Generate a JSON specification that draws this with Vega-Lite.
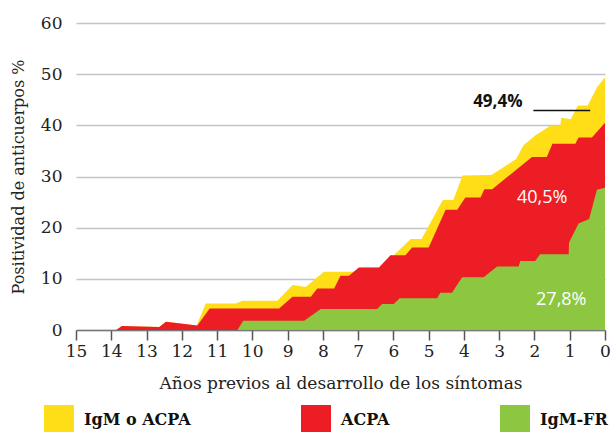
{
  "$schema": "https://vega.github.io/schema/vega-lite/v6.json",
  "width": 529,
  "height": 307,
  "autosize": "none",
  "padding": {"left": 76, "top": 23, "right": 6, "bottom": 102},
  "background": "white",
  "config": {"view": {"stroke": null}, "font": "DejaVu Serif"},
  "datasets": {
    "series": [
      {"s": "IgM o ACPA", "yr": 13.86, "v": 0}, {"s": "IgM o ACPA", "yr": 13.7, "v": 0.8}, {"s": "IgM o ACPA", "yr": 12.64, "v": 0.6}, {"s": "IgM o ACPA", "yr": 12.45, "v": 1.6}, {"s": "IgM o ACPA", "yr": 11.58, "v": 0.9}, {"s": "IgM o ACPA", "yr": 11.32, "v": 5.2}, {"s": "IgM o ACPA", "yr": 10.47, "v": 5.2}, {"s": "IgM o ACPA", "yr": 10.28, "v": 5.7}, {"s": "IgM o ACPA", "yr": 9.29, "v": 5.7}, {"s": "IgM o ACPA", "yr": 8.86, "v": 8.8}, {"s": "IgM o ACPA", "yr": 8.49, "v": 8.4}, {"s": "IgM o ACPA", "yr": 7.97, "v": 11.4}, {"s": "IgM o ACPA", "yr": 7.07, "v": 11.4}, {"s": "IgM o ACPA", "yr": 6.98, "v": 12.2}, {"s": "IgM o ACPA", "yr": 6.41, "v": 12.2}, {"s": "IgM o ACPA", "yr": 6.08, "v": 14.6}, {"s": "IgM o ACPA", "yr": 5.99, "v": 14.6}, {"s": "IgM o ACPA", "yr": 5.51, "v": 17.8}, {"s": "IgM o ACPA", "yr": 5.2, "v": 17.8}, {"s": "IgM o ACPA", "yr": 4.6, "v": 25.4}, {"s": "IgM o ACPA", "yr": 4.3, "v": 25.4}, {"s": "IgM o ACPA", "yr": 4.04, "v": 30.2}, {"s": "IgM o ACPA", "yr": 3.22, "v": 30.3}, {"s": "IgM o ACPA", "yr": 2.52, "v": 33.4}, {"s": "IgM o ACPA", "yr": 2.31, "v": 36.1}, {"s": "IgM o ACPA", "yr": 1.98, "v": 38.0}, {"s": "IgM o ACPA", "yr": 1.55, "v": 39.9}, {"s": "IgM o ACPA", "yr": 1.27, "v": 39.9}, {"s": "IgM o ACPA", "yr": 1.24, "v": 41.5}, {"s": "IgM o ACPA", "yr": 0.97, "v": 41.2}, {"s": "IgM o ACPA", "yr": 0.77, "v": 43.9}, {"s": "IgM o ACPA", "yr": 0.49, "v": 43.9}, {"s": "IgM o ACPA", "yr": 0.23, "v": 47.4}, {"s": "IgM o ACPA", "yr": 0, "v": 49.4},
      {"s": "ACPA", "yr": 13.86, "v": 0}, {"s": "ACPA", "yr": 13.7, "v": 0.8}, {"s": "ACPA", "yr": 12.64, "v": 0.6}, {"s": "ACPA", "yr": 12.45, "v": 1.6}, {"s": "ACPA", "yr": 11.56, "v": 0.9}, {"s": "ACPA", "yr": 11.21, "v": 4.2}, {"s": "ACPA", "yr": 9.24, "v": 4.2}, {"s": "ACPA", "yr": 8.86, "v": 6.5}, {"s": "ACPA", "yr": 8.34, "v": 6.5}, {"s": "ACPA", "yr": 8.16, "v": 8.1}, {"s": "ACPA", "yr": 7.68, "v": 8.1}, {"s": "ACPA", "yr": 7.5, "v": 10.6}, {"s": "ACPA", "yr": 7.26, "v": 10.6}, {"s": "ACPA", "yr": 6.98, "v": 12.2}, {"s": "ACPA", "yr": 6.41, "v": 12.2}, {"s": "ACPA", "yr": 6.08, "v": 14.6}, {"s": "ACPA", "yr": 5.66, "v": 14.6}, {"s": "ACPA", "yr": 5.47, "v": 16.1}, {"s": "ACPA", "yr": 5.0, "v": 16.1}, {"s": "ACPA", "yr": 4.52, "v": 23.5}, {"s": "ACPA", "yr": 4.19, "v": 23.5}, {"s": "ACPA", "yr": 3.96, "v": 25.9}, {"s": "ACPA", "yr": 3.53, "v": 25.9}, {"s": "ACPA", "yr": 3.42, "v": 27.5}, {"s": "ACPA", "yr": 3.2, "v": 27.5}, {"s": "ACPA", "yr": 2.07, "v": 33.8}, {"s": "ACPA", "yr": 1.65, "v": 33.8}, {"s": "ACPA", "yr": 1.49, "v": 36.4}, {"s": "ACPA", "yr": 0.84, "v": 36.4}, {"s": "ACPA", "yr": 0.75, "v": 37.6}, {"s": "ACPA", "yr": 0.37, "v": 37.6}, {"s": "ACPA", "yr": 0, "v": 40.5},
      {"s": "IgM-FR", "yr": 10.42, "v": 0}, {"s": "IgM-FR", "yr": 10.26, "v": 1.8}, {"s": "IgM-FR", "yr": 8.53, "v": 1.8}, {"s": "IgM-FR", "yr": 8.06, "v": 4.1}, {"s": "IgM-FR", "yr": 6.46, "v": 4.1}, {"s": "IgM-FR", "yr": 6.32, "v": 5.1}, {"s": "IgM-FR", "yr": 5.99, "v": 5.1}, {"s": "IgM-FR", "yr": 5.82, "v": 6.2}, {"s": "IgM-FR", "yr": 4.76, "v": 6.2}, {"s": "IgM-FR", "yr": 4.67, "v": 7.3}, {"s": "IgM-FR", "yr": 4.34, "v": 7.3}, {"s": "IgM-FR", "yr": 4.05, "v": 10.3}, {"s": "IgM-FR", "yr": 3.44, "v": 10.3}, {"s": "IgM-FR", "yr": 3.06, "v": 12.4}, {"s": "IgM-FR", "yr": 2.45, "v": 12.4}, {"s": "IgM-FR", "yr": 2.4, "v": 13.5}, {"s": "IgM-FR", "yr": 1.98, "v": 13.5}, {"s": "IgM-FR", "yr": 1.84, "v": 14.8}, {"s": "IgM-FR", "yr": 1.03, "v": 14.8}, {"s": "IgM-FR", "yr": 1.02, "v": 17.1}, {"s": "IgM-FR", "yr": 0.75, "v": 20.8}, {"s": "IgM-FR", "yr": 0.45, "v": 21.7}, {"s": "IgM-FR", "yr": 0.23, "v": 27.4}, {"s": "IgM-FR", "yr": 0, "v": 27.8}
    ],
    "darklabel": [{"t": "49,4%", "yr": 3.04, "v": 44.6}],
    "lightlabels": [
      {"t": "40,5%", "yr": 1.78, "v": 25.8},
      {"t": "27,8%", "yr": 1.24, "v": 5.9}
    ],
    "leader": [{"yr": 2.03, "yr2": 0.42, "v": 42.9}]
  },
  "encoding": {
    "x": {"field": "yr", "type": "quantitative", "title": "Años previos al desarrollo de los síntomas",
      "scale": {"domain": [15, 0]},
      "axis": {"values": [15,14,13,12,11,10,9,8,7,6,5,4,3,2,1,0], "format": "d", "grid": false, "labelFlush": false, "labelOverlap": false,
        "domainColor": "#777777", "domainWidth": 1.5, "tickColor": "#555555", "tickSize": 10, "tickWidth": 1.5,
        "labelFont": "DejaVu Serif", "labelFontSize": 17, "labelColor": "#222222", "labelPadding": 3,
        "titleFont": "DejaVu Serif", "titleFontSize": 17, "titleFontWeight": "normal", "titleColor": "#222222", "titlePadding": 16}},
    "y": {"field": "v", "type": "quantitative", "title": "Positividad de anticuerpos %",
      "scale": {"domain": [0, 60]},
      "axis": {"values": [0,10,20,30,40,50,60], "domain": false, "ticks": false, "gridColor": "#c4c4c4", "gridWidth": 1.5,
        "labelFont": "DejaVu Serif", "labelFontSize": 17, "labelColor": "#222222", "labelPadding": 14,
        "titleFont": "DejaVu Serif", "titleFontSize": 16, "titleFontWeight": "normal", "titleColor": "#222222", "titlePadding": 14}}
  },
  "layer": [
    {
      "data": {"name": "series"},
      "transform": [{"filter": "datum.s === 'IgM o ACPA'"}],
      "mark": {"type": "area", "interpolate": "linear", "opacity": 1},
      "encoding": {
        "color": {"field": "s", "type": "nominal",
          "scale": {"domain": ["IgM o ACPA", "ACPA", "IgM-FR"], "range": ["#FFDD17", "#ED1D25", "#8DC641"]},
          "legend": {"orient": "none", "legendX": -32, "legendY": 382, "direction": "horizontal", "title": null,
            "symbolType": "square", "symbolSize": 900, "symbolStrokeWidth": 0, "symbolOpacity": 1,
            "labelFont": "DejaVu Serif", "labelFontWeight": "bold", "labelFontSize": 16, "labelColor": "#111111",
            "labelOffset": 10, "columnPadding": 110, "padding": 0, "labelLimit": 300}}
      }
    },
    {
      "data": {"name": "series"},
      "transform": [{"filter": "datum.s === 'ACPA'"}],
      "mark": {"type": "area", "interpolate": "linear", "opacity": 1},
      "encoding": {"color": {"field": "s", "type": "nominal"}}
    },
    {
      "data": {"name": "series"},
      "transform": [{"filter": "datum.s === 'IgM-FR'"}],
      "mark": {"type": "area", "interpolate": "linear", "opacity": 1},
      "encoding": {"color": {"field": "s", "type": "nominal"}}
    },
    {
      "data": {"name": "leader"},
      "mark": {"type": "rule", "color": "#111111", "strokeWidth": 1.5},
      "encoding": {"x2": {"field": "yr2"}}
    },
    {
      "data": {"name": "darklabel"},
      "mark": {"type": "text", "font": "Open Sans", "fontSize": 17, "fontWeight": "bold", "align": "center", "baseline": "middle", "color": "#111111"},
      "encoding": {"text": {"field": "t"}}
    },
    {
      "data": {"name": "lightlabels"},
      "mark": {"type": "text", "font": "Open Sans", "fontSize": 18, "align": "center", "baseline": "middle", "color": "#ffffff"},
      "encoding": {"text": {"field": "t"}}
    }
  ]
}
